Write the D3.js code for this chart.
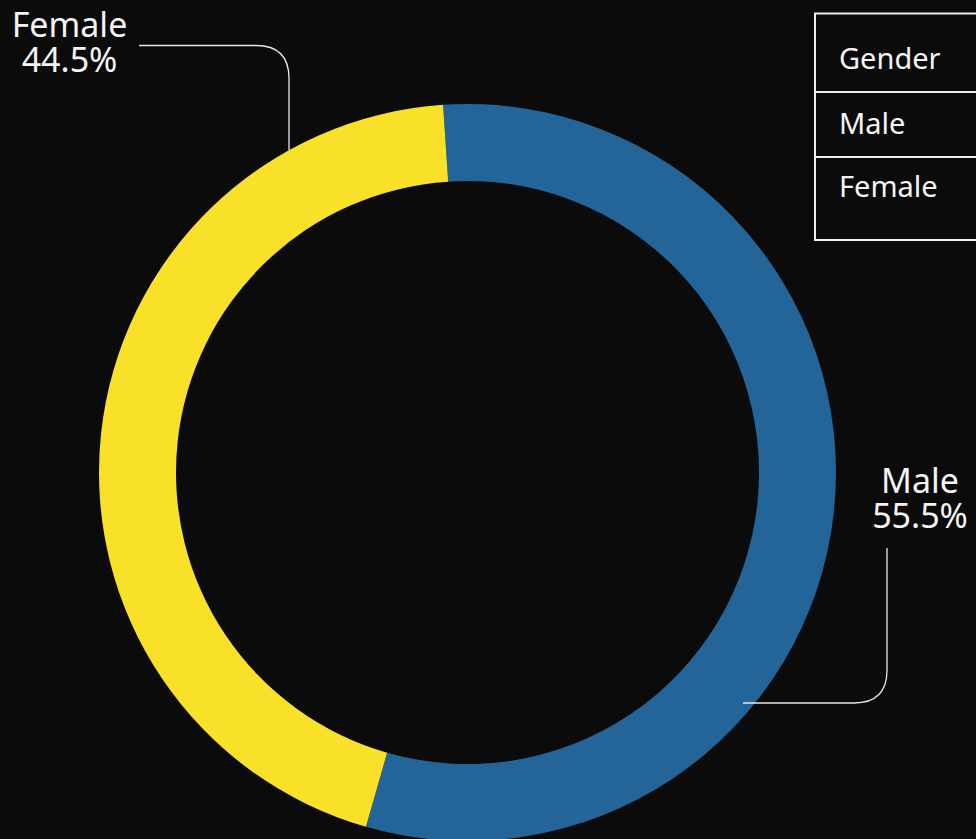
<!DOCTYPE html>
<html><head><meta charset="utf-8">
<script src="https://cdn.jsdelivr.net/npm/d3@7"></script>
<style>
html,body{margin:0;padding:0;background:#0c0b0c;overflow:hidden;}
text{font-family:"Noto Sans",sans-serif;fill:#f4f4f4;}
</style></head>
<body>
<script>
const categories = ["Male", "Female"];
const values = [55.5, 44.5];
const colors = ["#236598", "#f9e129"];
const legendTitle = "Gender";

const W = 976, H = 839;
const cx = 467.5, cy = 472.5, rOuter = 368.5, rInner = 291.5;
const startAngle = -3.8 * Math.PI / 180;

const svg = d3.select("body").append("svg").attr("width", W).attr("height", H);
svg.append("rect").attr("width", W).attr("height", H).attr("fill", "#0c0b0c");

const data = categories.map((c, i) => ({ name: c, value: values[i], color: colors[i] }));
const pie = d3.pie().value(d => d.value).sort(null)
  .startAngle(startAngle).endAngle(startAngle + 2 * Math.PI);
const arc = d3.arc().innerRadius(rInner).outerRadius(rOuter);

const g = svg.append("g").attr("transform", `translate(${cx},${cy})`);
g.selectAll("path").data(pie(data)).join("path")
  .attr("d", arc).attr("fill", d => d.data.color);

// leader lines
const lineColor = "#e8e8e8";
svg.append("path")
  .attr("d", "M139,45.5 L256,45.5 Q289,45.5 289,78.5 L289,150")
  .attr("fill", "none").attr("stroke", lineColor).attr("stroke-width", 1.3);
svg.append("path")
  .attr("d", "M887,548 L887,670 Q887,703 854,703 L743,703")
  .attr("fill", "none").attr("stroke", lineColor).attr("stroke-width", 1.3);

const fmt = v => v.toFixed(1) + "%";
const labelPos = { Female: [69.5, 37], Male: [920, 493] };
data.forEach(d => {
  const p = labelPos[d.name];
  const t = svg.append("text").attr("x", p[0]).attr("y", p[1]).attr("text-anchor", "middle")
    .attr("font-size", 34);
  t.append("tspan").attr("x", p[0]).text(d.name);
  t.append("tspan").attr("x", p[0]).attr("dy", 35).text(fmt(d.value));
});

// legend table
const lg = svg.append("g");
lg.append("rect").attr("x", 815).attr("y", 13.5).attr("width", 200).attr("height", 226.5)
  .attr("fill", "none").attr("stroke", "#f0f0f0").attr("stroke-width", 2);
[92, 157].forEach(y => lg.append("line").attr("x1", 815).attr("x2", 1000)
  .attr("y1", y).attr("y2", y).attr("stroke", "#f0f0f0").attr("stroke-width", 2));
const rows = [legendTitle, ...categories];
const rowY = [69, 134, 197];
rows.forEach((t, i) => lg.append("text").attr("x", 839).attr("y", rowY[i])
  .attr("font-size", 29).text(t));
</script>
</body></html>
